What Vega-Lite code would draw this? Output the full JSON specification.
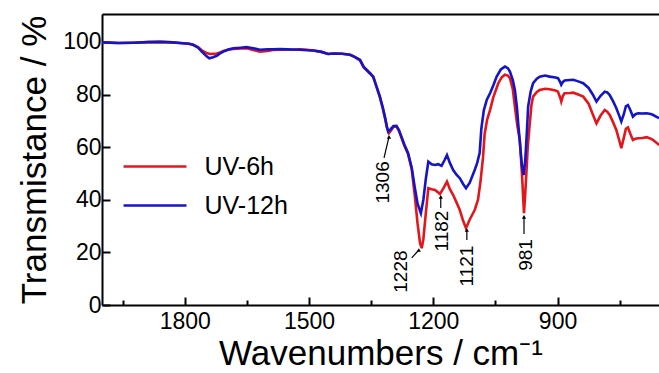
{
  "$schema": "https://vega.github.io/schema/vega-lite/v6.json",
  "autosize": "none",
  "width": 557,
  "height": 291,
  "padding": {"left": 102, "top": 14, "right": 0, "bottom": 68},
  "config": {
    "font": "Liberation Sans",
    "view": {"stroke": null},
    "axis": {"domainColor": "black", "domainWidth": 2, "tickColor": "black", "tickWidth": 2, "labelColor": "black", "titleColor": "black", "labelFontSize": 23, "titleFontSize": 35, "titleFontWeight": "normal", "grid": false},
    "legend": {"labelFontSize": 25, "labelColor": "black", "symbolType": "M-1.315,0H1.315", "symbolStrokeWidth": 2.5, "symbolSize": 2290, "rowPadding": 0, "labelOffset": 24}
  },
  "datasets": {
    "spectra": [
      {"wn": 2000, "T": 99.8, "s": "UV-6h"}, {"wn": 1960, "T": 99.6, "s": "UV-6h"}, {"wn": 1924, "T": 99.7, "s": "UV-6h"}, {"wn": 1890, "T": 99.9, "s": "UV-6h"}, {"wn": 1860, "T": 100.0, "s": "UV-6h"}, {"wn": 1830, "T": 99.8, "s": "UV-6h"}, {"wn": 1812, "T": 99.6, "s": "UV-6h"}, {"wn": 1790, "T": 99.3, "s": "UV-6h"}, {"wn": 1780, "T": 98.9, "s": "UV-6h"}, {"wn": 1768, "T": 98.0, "s": "UV-6h"}, {"wn": 1759, "T": 96.8, "s": "UV-6h"}, {"wn": 1748, "T": 95.8, "s": "UV-6h"}, {"wn": 1739, "T": 95.4, "s": "UV-6h"}, {"wn": 1730, "T": 95.5, "s": "UV-6h"}, {"wn": 1723, "T": 95.6, "s": "UV-6h"}, {"wn": 1715, "T": 96.0, "s": "UV-6h"}, {"wn": 1707, "T": 96.5, "s": "UV-6h"}, {"wn": 1695, "T": 97.0, "s": "UV-6h"}, {"wn": 1683, "T": 97.3, "s": "UV-6h"}, {"wn": 1665, "T": 97.5, "s": "UV-6h"}, {"wn": 1651, "T": 97.6, "s": "UV-6h"}, {"wn": 1635, "T": 96.9, "s": "UV-6h"}, {"wn": 1619, "T": 96.3, "s": "UV-6h"}, {"wn": 1600, "T": 96.6, "s": "UV-6h"}, {"wn": 1587, "T": 96.9, "s": "UV-6h"}, {"wn": 1570, "T": 97.0, "s": "UV-6h"}, {"wn": 1554, "T": 97.0, "s": "UV-6h"}, {"wn": 1540, "T": 97.0, "s": "UV-6h"}, {"wn": 1522, "T": 97.2, "s": "UV-6h"}, {"wn": 1505, "T": 97.0, "s": "UV-6h"}, {"wn": 1490, "T": 96.7, "s": "UV-6h"}, {"wn": 1470, "T": 96.2, "s": "UV-6h"}, {"wn": 1454, "T": 95.4, "s": "UV-6h"}, {"wn": 1440, "T": 95.6, "s": "UV-6h"}, {"wn": 1420, "T": 95.5, "s": "UV-6h"}, {"wn": 1401, "T": 95.1, "s": "UV-6h"}, {"wn": 1390, "T": 94.3, "s": "UV-6h"}, {"wn": 1377, "T": 93.0, "s": "UV-6h"}, {"wn": 1368, "T": 90.3, "s": "UV-6h"}, {"wn": 1361, "T": 89.2, "s": "UV-6h"}, {"wn": 1352, "T": 87.8, "s": "UV-6h"}, {"wn": 1345, "T": 86.6, "s": "UV-6h"}, {"wn": 1337, "T": 82.8, "s": "UV-6h"}, {"wn": 1329, "T": 79.0, "s": "UV-6h"}, {"wn": 1322, "T": 74.8, "s": "UV-6h"}, {"wn": 1317, "T": 71.4, "s": "UV-6h"}, {"wn": 1312, "T": 67.4, "s": "UV-6h"}, {"wn": 1307, "T": 65.3, "s": "UV-6h"}, {"wn": 1302, "T": 66.3, "s": "UV-6h"}, {"wn": 1296, "T": 67.8, "s": "UV-6h"}, {"wn": 1289, "T": 67.9, "s": "UV-6h"}, {"wn": 1283, "T": 66.2, "s": "UV-6h"}, {"wn": 1277, "T": 63.6, "s": "UV-6h"}, {"wn": 1270, "T": 60.6, "s": "UV-6h"}, {"wn": 1261, "T": 57.4, "s": "UV-6h"}, {"wn": 1252, "T": 51.5, "s": "UV-6h"}, {"wn": 1245, "T": 42.0, "s": "UV-6h"}, {"wn": 1238, "T": 31.0, "s": "UV-6h"}, {"wn": 1232, "T": 23.5, "s": "UV-6h"}, {"wn": 1228, "T": 21.6, "s": "UV-6h"}, {"wn": 1224, "T": 25.0, "s": "UV-6h"}, {"wn": 1218, "T": 35.0, "s": "UV-6h"}, {"wn": 1212, "T": 44.4, "s": "UV-6h"}, {"wn": 1204, "T": 44.0, "s": "UV-6h"}, {"wn": 1196, "T": 43.7, "s": "UV-6h"}, {"wn": 1190, "T": 43.0, "s": "UV-6h"}, {"wn": 1184, "T": 42.2, "s": "UV-6h"}, {"wn": 1175, "T": 44.5, "s": "UV-6h"}, {"wn": 1167, "T": 46.9, "s": "UV-6h"}, {"wn": 1160, "T": 44.0, "s": "UV-6h"}, {"wn": 1152, "T": 41.8, "s": "UV-6h"}, {"wn": 1144, "T": 39.0, "s": "UV-6h"}, {"wn": 1136, "T": 36.1, "s": "UV-6h"}, {"wn": 1128, "T": 32.0, "s": "UV-6h"}, {"wn": 1121, "T": 29.2, "s": "UV-6h"}, {"wn": 1112, "T": 32.5, "s": "UV-6h"}, {"wn": 1100, "T": 36.1, "s": "UV-6h"}, {"wn": 1092, "T": 40.0, "s": "UV-6h"}, {"wn": 1086, "T": 47.0, "s": "UV-6h"}, {"wn": 1080, "T": 56.0, "s": "UV-6h"}, {"wn": 1076, "T": 65.0, "s": "UV-6h"}, {"wn": 1070, "T": 70.5, "s": "UV-6h"}, {"wn": 1063, "T": 74.1, "s": "UV-6h"}, {"wn": 1055, "T": 79.0, "s": "UV-6h"}, {"wn": 1043, "T": 84.3, "s": "UV-6h"}, {"wn": 1035, "T": 86.5, "s": "UV-6h"}, {"wn": 1027, "T": 87.5, "s": "UV-6h"}, {"wn": 1020, "T": 87.2, "s": "UV-6h"}, {"wn": 1015, "T": 86.2, "s": "UV-6h"}, {"wn": 1008, "T": 82.0, "s": "UV-6h"}, {"wn": 1003, "T": 75.4, "s": "UV-6h"}, {"wn": 997, "T": 68.0, "s": "UV-6h"}, {"wn": 991, "T": 62.7, "s": "UV-6h"}, {"wn": 986, "T": 50.0, "s": "UV-6h"}, {"wn": 981, "T": 34.9, "s": "UV-6h"}, {"wn": 977, "T": 45.0, "s": "UV-6h"}, {"wn": 972, "T": 60.0, "s": "UV-6h"}, {"wn": 967, "T": 69.0, "s": "UV-6h"}, {"wn": 963, "T": 76.0, "s": "UV-6h"}, {"wn": 959, "T": 79.2, "s": "UV-6h"}, {"wn": 950, "T": 81.0, "s": "UV-6h"}, {"wn": 943, "T": 81.7, "s": "UV-6h"}, {"wn": 930, "T": 82.2, "s": "UV-6h"}, {"wn": 919, "T": 82.0, "s": "UV-6h"}, {"wn": 905, "T": 81.5, "s": "UV-6h"}, {"wn": 899, "T": 81.1, "s": "UV-6h"}, {"wn": 893, "T": 78.5, "s": "UV-6h"}, {"wn": 891, "T": 77.3, "s": "UV-6h"}, {"wn": 887, "T": 79.5, "s": "UV-6h"}, {"wn": 883, "T": 80.5, "s": "UV-6h"}, {"wn": 870, "T": 80.6, "s": "UV-6h"}, {"wn": 862, "T": 80.7, "s": "UV-6h"}, {"wn": 850, "T": 80.0, "s": "UV-6h"}, {"wn": 838, "T": 79.2, "s": "UV-6h"}, {"wn": 825, "T": 76.5, "s": "UV-6h"}, {"wn": 815, "T": 72.5, "s": "UV-6h"}, {"wn": 806, "T": 69.0, "s": "UV-6h"}, {"wn": 796, "T": 72.0, "s": "UV-6h"}, {"wn": 786, "T": 74.1, "s": "UV-6h"}, {"wn": 780, "T": 73.5, "s": "UV-6h"}, {"wn": 774, "T": 72.2, "s": "UV-6h"}, {"wn": 766, "T": 69.5, "s": "UV-6h"}, {"wn": 758, "T": 66.5, "s": "UV-6h"}, {"wn": 750, "T": 62.0, "s": "UV-6h"}, {"wn": 746, "T": 59.6, "s": "UV-6h"}, {"wn": 740, "T": 63.5, "s": "UV-6h"}, {"wn": 735, "T": 67.0, "s": "UV-6h"}, {"wn": 730, "T": 67.5, "s": "UV-6h"}, {"wn": 724, "T": 65.0, "s": "UV-6h"}, {"wn": 718, "T": 62.7, "s": "UV-6h"}, {"wn": 712, "T": 63.2, "s": "UV-6h"}, {"wn": 705, "T": 63.4, "s": "UV-6h"}, {"wn": 695, "T": 63.5, "s": "UV-6h"}, {"wn": 685, "T": 63.8, "s": "UV-6h"}, {"wn": 675, "T": 63.2, "s": "UV-6h"}, {"wn": 669, "T": 62.7, "s": "UV-6h"}, {"wn": 662, "T": 61.8, "s": "UV-6h"}, {"wn": 655, "T": 60.8, "s": "UV-6h"},

      {"wn": 2000, "T": 99.8, "s": "UV-12h"}, {"wn": 1960, "T": 99.6, "s": "UV-12h"}, {"wn": 1924, "T": 99.7, "s": "UV-12h"}, {"wn": 1890, "T": 99.9, "s": "UV-12h"}, {"wn": 1860, "T": 100.0, "s": "UV-12h"}, {"wn": 1830, "T": 99.8, "s": "UV-12h"}, {"wn": 1812, "T": 99.6, "s": "UV-12h"}, {"wn": 1790, "T": 99.3, "s": "UV-12h"}, {"wn": 1780, "T": 98.9, "s": "UV-12h"}, {"wn": 1768, "T": 97.8, "s": "UV-12h"}, {"wn": 1759, "T": 96.3, "s": "UV-12h"}, {"wn": 1748, "T": 94.6, "s": "UV-12h"}, {"wn": 1741, "T": 93.8, "s": "UV-12h"}, {"wn": 1732, "T": 94.2, "s": "UV-12h"}, {"wn": 1723, "T": 94.7, "s": "UV-12h"}, {"wn": 1715, "T": 95.6, "s": "UV-12h"}, {"wn": 1707, "T": 96.3, "s": "UV-12h"}, {"wn": 1695, "T": 97.1, "s": "UV-12h"}, {"wn": 1683, "T": 97.6, "s": "UV-12h"}, {"wn": 1665, "T": 97.8, "s": "UV-12h"}, {"wn": 1651, "T": 98.0, "s": "UV-12h"}, {"wn": 1635, "T": 97.6, "s": "UV-12h"}, {"wn": 1619, "T": 97.0, "s": "UV-12h"}, {"wn": 1600, "T": 97.2, "s": "UV-12h"}, {"wn": 1587, "T": 97.2, "s": "UV-12h"}, {"wn": 1570, "T": 97.3, "s": "UV-12h"}, {"wn": 1554, "T": 97.2, "s": "UV-12h"}, {"wn": 1540, "T": 97.1, "s": "UV-12h"}, {"wn": 1522, "T": 97.0, "s": "UV-12h"}, {"wn": 1505, "T": 96.8, "s": "UV-12h"}, {"wn": 1490, "T": 96.7, "s": "UV-12h"}, {"wn": 1470, "T": 96.2, "s": "UV-12h"}, {"wn": 1454, "T": 95.4, "s": "UV-12h"}, {"wn": 1440, "T": 95.6, "s": "UV-12h"}, {"wn": 1420, "T": 95.5, "s": "UV-12h"}, {"wn": 1401, "T": 95.1, "s": "UV-12h"}, {"wn": 1390, "T": 94.3, "s": "UV-12h"}, {"wn": 1377, "T": 93.2, "s": "UV-12h"}, {"wn": 1368, "T": 90.5, "s": "UV-12h"}, {"wn": 1361, "T": 89.4, "s": "UV-12h"}, {"wn": 1352, "T": 88.0, "s": "UV-12h"}, {"wn": 1345, "T": 86.8, "s": "UV-12h"}, {"wn": 1337, "T": 83.0, "s": "UV-12h"}, {"wn": 1329, "T": 79.2, "s": "UV-12h"}, {"wn": 1322, "T": 75.0, "s": "UV-12h"}, {"wn": 1317, "T": 71.6, "s": "UV-12h"}, {"wn": 1312, "T": 67.8, "s": "UV-12h"}, {"wn": 1309, "T": 65.9, "s": "UV-12h"}, {"wn": 1303, "T": 66.8, "s": "UV-12h"}, {"wn": 1296, "T": 68.0, "s": "UV-12h"}, {"wn": 1289, "T": 68.1, "s": "UV-12h"}, {"wn": 1283, "T": 66.5, "s": "UV-12h"}, {"wn": 1277, "T": 64.0, "s": "UV-12h"}, {"wn": 1270, "T": 61.0, "s": "UV-12h"}, {"wn": 1261, "T": 57.8, "s": "UV-12h"}, {"wn": 1252, "T": 52.1, "s": "UV-12h"}, {"wn": 1245, "T": 45.0, "s": "UV-12h"}, {"wn": 1238, "T": 38.5, "s": "UV-12h"}, {"wn": 1230, "T": 34.9, "s": "UV-12h"}, {"wn": 1224, "T": 40.0, "s": "UV-12h"}, {"wn": 1218, "T": 48.0, "s": "UV-12h"}, {"wn": 1212, "T": 54.5, "s": "UV-12h"}, {"wn": 1204, "T": 53.5, "s": "UV-12h"}, {"wn": 1196, "T": 53.2, "s": "UV-12h"}, {"wn": 1188, "T": 53.5, "s": "UV-12h"}, {"wn": 1180, "T": 52.9, "s": "UV-12h"}, {"wn": 1173, "T": 55.0, "s": "UV-12h"}, {"wn": 1167, "T": 57.0, "s": "UV-12h"}, {"wn": 1160, "T": 54.0, "s": "UV-12h"}, {"wn": 1152, "T": 51.3, "s": "UV-12h"}, {"wn": 1144, "T": 49.5, "s": "UV-12h"}, {"wn": 1136, "T": 48.2, "s": "UV-12h"}, {"wn": 1128, "T": 46.0, "s": "UV-12h"}, {"wn": 1121, "T": 44.4, "s": "UV-12h"}, {"wn": 1112, "T": 46.5, "s": "UV-12h"}, {"wn": 1100, "T": 51.3, "s": "UV-12h"}, {"wn": 1094, "T": 54.0, "s": "UV-12h"}, {"wn": 1088, "T": 57.8, "s": "UV-12h"}, {"wn": 1084, "T": 67.0, "s": "UV-12h"}, {"wn": 1078, "T": 74.0, "s": "UV-12h"}, {"wn": 1071, "T": 77.9, "s": "UV-12h"}, {"wn": 1063, "T": 80.5, "s": "UV-12h"}, {"wn": 1055, "T": 83.5, "s": "UV-12h"}, {"wn": 1047, "T": 86.8, "s": "UV-12h"}, {"wn": 1037, "T": 89.5, "s": "UV-12h"}, {"wn": 1027, "T": 90.6, "s": "UV-12h"}, {"wn": 1020, "T": 90.0, "s": "UV-12h"}, {"wn": 1015, "T": 88.7, "s": "UV-12h"}, {"wn": 1008, "T": 85.5, "s": "UV-12h"}, {"wn": 1003, "T": 81.7, "s": "UV-12h"}, {"wn": 998, "T": 75.0, "s": "UV-12h"}, {"wn": 995, "T": 69.0, "s": "UV-12h"}, {"wn": 990, "T": 60.0, "s": "UV-12h"}, {"wn": 986, "T": 53.0, "s": "UV-12h"}, {"wn": 982, "T": 49.4, "s": "UV-12h"}, {"wn": 978, "T": 55.0, "s": "UV-12h"}, {"wn": 974, "T": 66.0, "s": "UV-12h"}, {"wn": 971, "T": 75.4, "s": "UV-12h"}, {"wn": 965, "T": 81.0, "s": "UV-12h"}, {"wn": 959, "T": 84.3, "s": "UV-12h"}, {"wn": 950, "T": 86.0, "s": "UV-12h"}, {"wn": 943, "T": 86.8, "s": "UV-12h"}, {"wn": 930, "T": 87.2, "s": "UV-12h"}, {"wn": 919, "T": 86.8, "s": "UV-12h"}, {"wn": 905, "T": 86.5, "s": "UV-12h"}, {"wn": 899, "T": 86.2, "s": "UV-12h"}, {"wn": 893, "T": 84.5, "s": "UV-12h"}, {"wn": 891, "T": 83.7, "s": "UV-12h"}, {"wn": 887, "T": 84.8, "s": "UV-12h"}, {"wn": 883, "T": 85.3, "s": "UV-12h"}, {"wn": 870, "T": 85.5, "s": "UV-12h"}, {"wn": 862, "T": 85.6, "s": "UV-12h"}, {"wn": 850, "T": 85.0, "s": "UV-12h"}, {"wn": 838, "T": 84.3, "s": "UV-12h"}, {"wn": 825, "T": 82.5, "s": "UV-12h"}, {"wn": 815, "T": 80.0, "s": "UV-12h"}, {"wn": 806, "T": 77.3, "s": "UV-12h"}, {"wn": 796, "T": 79.5, "s": "UV-12h"}, {"wn": 786, "T": 81.1, "s": "UV-12h"}, {"wn": 780, "T": 80.8, "s": "UV-12h"}, {"wn": 774, "T": 79.8, "s": "UV-12h"}, {"wn": 766, "T": 77.5, "s": "UV-12h"}, {"wn": 758, "T": 74.8, "s": "UV-12h"}, {"wn": 750, "T": 71.5, "s": "UV-12h"}, {"wn": 746, "T": 69.7, "s": "UV-12h"}, {"wn": 740, "T": 72.5, "s": "UV-12h"}, {"wn": 735, "T": 75.5, "s": "UV-12h"}, {"wn": 730, "T": 76.0, "s": "UV-12h"}, {"wn": 724, "T": 74.0, "s": "UV-12h"}, {"wn": 718, "T": 71.6, "s": "UV-12h"}, {"wn": 712, "T": 72.5, "s": "UV-12h"}, {"wn": 705, "T": 72.9, "s": "UV-12h"}, {"wn": 695, "T": 72.8, "s": "UV-12h"}, {"wn": 685, "T": 72.9, "s": "UV-12h"}, {"wn": 675, "T": 72.6, "s": "UV-12h"}, {"wn": 669, "T": 72.2, "s": "UV-12h"}, {"wn": 662, "T": 71.6, "s": "UV-12h"}, {"wn": 655, "T": 71.0, "s": "UV-12h"}
    ],
    "labels": [
      {"wn": 1322, "T": 46.6, "label": "1306"},
      {"wn": 1277, "T": 12.7, "label": "1228"},
      {"wn": 1178, "T": 28.1, "label": "1182"},
      {"wn": 1118, "T": 14.8, "label": "1121"},
      {"wn": 975, "T": 19.0, "label": "981"}
    ],
    "arrows": [
      {"wn": 1319, "T": 55.9, "wn2": 1307, "T2": 63.9},
      {"wn": 1252, "T": 17.9, "wn2": 1235, "T2": 20.9},
      {"wn": 1182, "T": 36.9, "wn2": 1182, "T2": 41.1},
      {"wn": 1119, "T": 24.7, "wn2": 1119, "T2": 28.5},
      {"wn": 981, "T": 27.0, "wn2": 981, "T2": 33.5}
    ]
  },
  "resolve": {"axis": {"x": "independent"}},
  "layer": [
    {
      "data": {"name": "spectra"},
      "mark": {"type": "line", "strokeWidth": 2.6, "clip": true},
      "encoding": {
        "x": {"field": "wn", "type": "quantitative",
              "scale": {"domain": [655, 2000], "reverse": true, "zero": false, "nice": false},
              "axis": {"orient": "bottom", "title": "Wavenumbers / cm⁻¹", "values": [1950, 1800, 1650, 1500, 1350, 1200, 1050, 900, 750], "format": "d",
                       "labelExpr": "datum.value % 300 === 0 ? datum.label : ''",
                       "tickSize": {"condition": {"test": "datum.value % 300 === 0", "value": -8}, "value": -5},
                       "labelPadding": 13, "titlePadding": 3}},
        "y": {"field": "T", "type": "quantitative",
              "scale": {"domain": [0, 110.6], "zero": false, "nice": false},
              "axis": {"title": "Transmistance / %", "values": [0, 10, 20, 30, 40, 50, 60, 70, 80, 90, 100],
                       "labelExpr": "datum.value % 20 === 0 ? datum.label : ''",
                       "tickSize": {"condition": {"test": "datum.value % 20 === 0", "value": -8}, "value": -5},
                       "labelPadding": 9, "titlePadding": 10}},
        "color": {"field": "s", "type": "nominal", "sort": ["UV-6h", "UV-12h"],
                  "scale": {"domain": ["UV-6h", "UV-12h"], "range": ["#e3161b", "#1515c8"]},
                  "legend": {"title": null, "orient": "none", "legendX": 27.5, "legendY": 127}},
        "order": {"field": "wn", "type": "quantitative", "sort": "descending"}
      }
    },
    {
      "data": {"name": "labels"},
      "mark": {"type": "text", "angle": 270, "fontSize": 19, "align": "center", "baseline": "middle", "color": "black"},
      "encoding": {
        "x": {"field": "wn", "type": "quantitative", "axis": {"orient": "top", "title": null, "labels": false, "ticks": false, "domain": true}},
        "y": {"field": "T", "type": "quantitative"},
        "text": {"field": "label"}
      }
    },
    {
      "data": {"name": "arrows"},
      "mark": {"type": "rule", "color": "black", "strokeWidth": 1.2},
      "encoding": {
        "x": {"field": "wn", "type": "quantitative", "axis": null},
        "y": {"field": "T", "type": "quantitative"},
        "x2": {"field": "wn2"},
        "y2": {"field": "T2"}
      }
    },
    {
      "data": {"name": "arrows"},
      "mark": {"type": "point", "shape": "triangle-up", "filled": true, "color": "black", "size": 18, "opacity": 1},
      "encoding": {
        "x": {"field": "wn2", "type": "quantitative", "axis": null},
        "y": {"field": "T2", "type": "quantitative"}
      }
    }
  ]
}
